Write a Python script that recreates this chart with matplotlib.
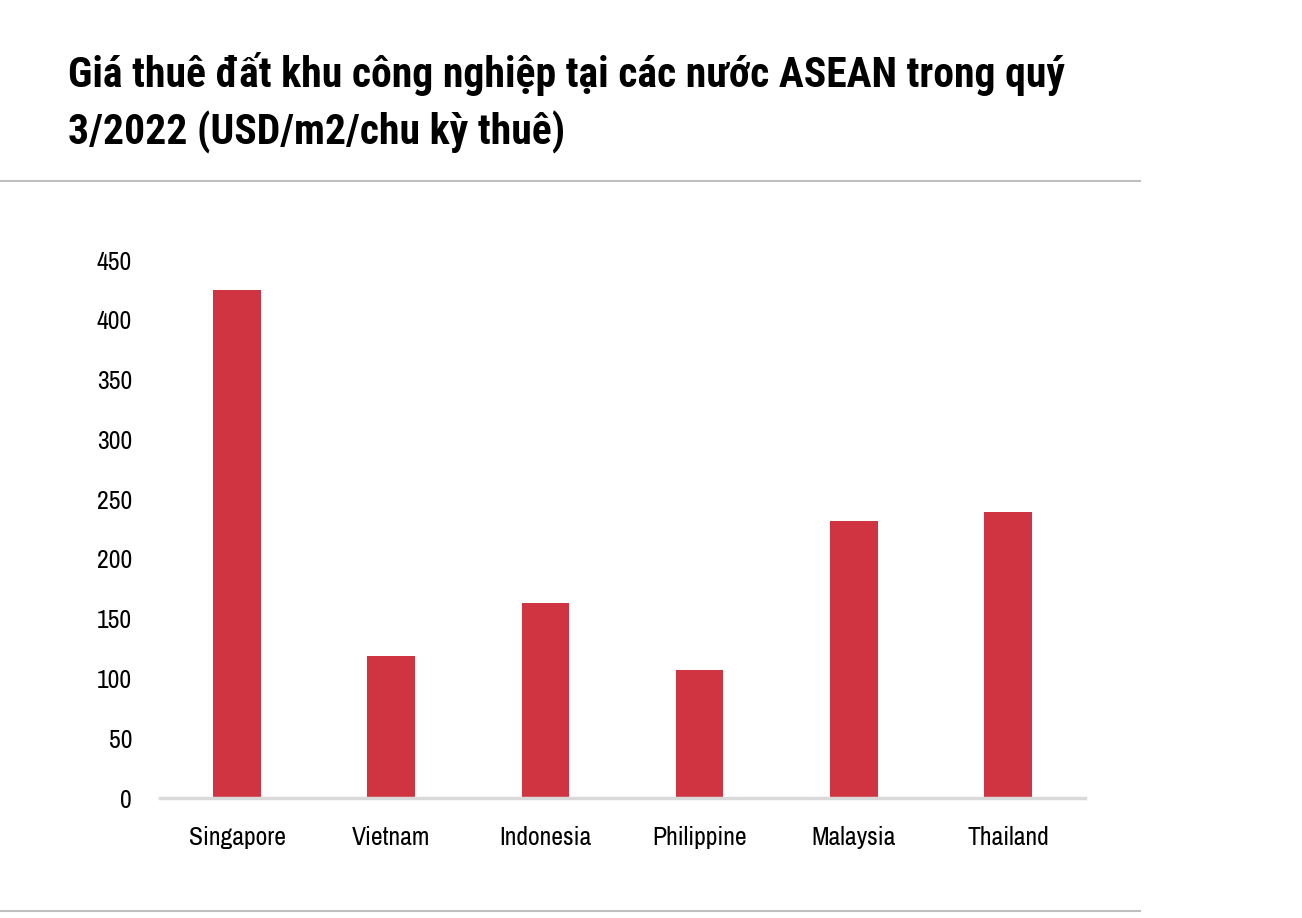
import matplotlib.pyplot as plt
from matplotlib.lines import Line2D

countries = ["Singapore", "Vietnam", "Indonesia", "Philippine", "Malaysia", "Thailand"]
rent = [425, 119, 163, 107, 232, 239]
yticks = [0, 50, 100, 150, 200, 250, 300, 350, 400, 450]

title = "Giá thuê đất khu công nghiệp tại các nước ASEAN trong quý\n3/2022 (USD/m2/chu kỳ thuê)"

W, H = 1302, 918
plt.rcParams["font.family"] = ["Archivo Narrow", "Roboto Condensed", "DejaVu Sans"]
fig = plt.figure(figsize=(W / 100, H / 100), dpi=100)

ax = fig.add_axes([160 / W, 1 - 798 / H, (1085 - 160) / W, (798 - 260) / H])
ax.bar(range(len(countries)), rent, width=0.31, color="#d03441", zorder=2)
ax.set_xlim(-0.5, len(countries) - 0.5)
ax.set_ylim(0, 450)
ax.set_yticks(yticks)
ax.set_xticks(range(len(countries)))
ax.set_xticklabels(countries, fontsize=18.5)
ax.tick_params(axis="y", labelsize=18.5, length=0, pad=20)
ax.tick_params(axis="x", length=0, pad=20)
for s in ["top", "right", "left"]:
    ax.spines[s].set_visible(False)
ax.spines["bottom"].set_color("#d9d9d9")
ax.spines["bottom"].set_linewidth(2.5)

fig.text(68 / W, 1 - 52 / H, title, fontsize=30, fontweight="bold",
         family=["Roboto Condensed", "DejaVu Sans"],
         va="top", ha="left", linespacing=1.45)

# horizontal rules
fig.add_artist(Line2D([0, 1140 / W], [1 - 181 / H] * 2, color="#c0c0c0", lw=1.5))
fig.add_artist(Line2D([0, 1140 / W], [1 - 911 / H] * 2, color="#c0c0c0", lw=1.5))

fig.savefig("out.png", dpi=100)
